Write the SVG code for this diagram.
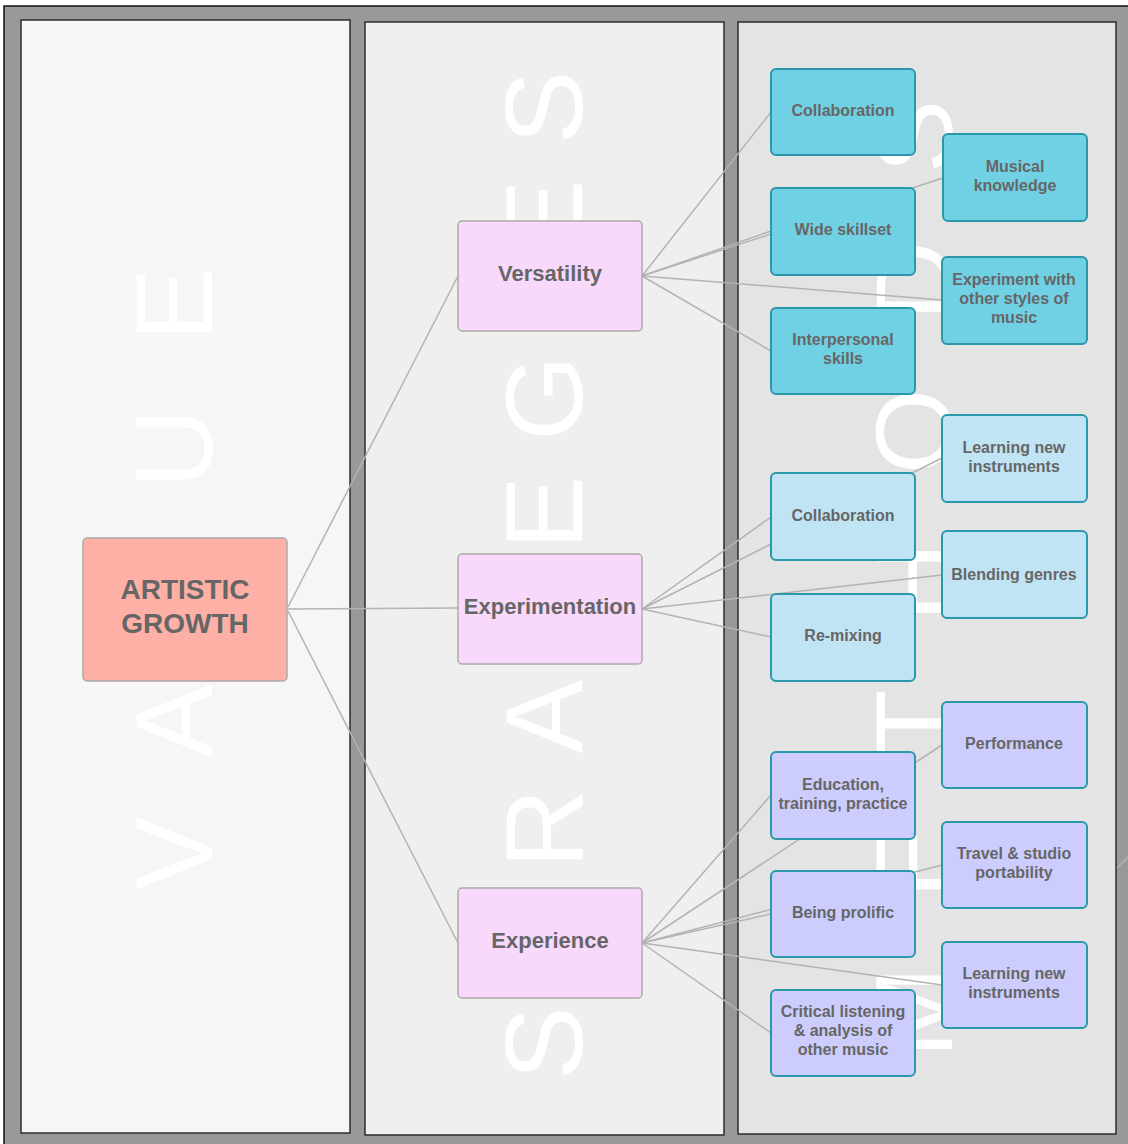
<svg xmlns="http://www.w3.org/2000/svg" width="1128" height="1144" viewBox="0 0 1128 1144">
  <style>
    .col { stroke: #222; stroke-width: 1.4; }
    .big { font-family: "Liberation Sans", Arial, sans-serif; font-size: 110px; fill: #ffffff; }
    .link { stroke: #b3b3b3; stroke-width: 1.5; fill: none; }
    .root rect { fill: #ffb0a6; stroke: #aaaaaa; stroke-width: 1.5; }
    .strat rect { fill: #f9d9fb; stroke: #aaaaaa; stroke-width: 1.5; }
    .m rect { stroke: #2a97ab; stroke-width: 2; }
    .teal rect { fill: #71d1e4; }
    .sky rect { fill: #c1e4f5; }
    .lav rect { fill: #cccdfd; }
    text.lbl { font-family: "Liberation Sans", Arial, sans-serif; font-weight: bold; fill: #666666; text-anchor: middle; }
    .m text.lbl { font-size: 16px; }
  </style>

  <!-- frame -->
  <rect x="4" y="6" width="1130" height="1144" fill="#999999" stroke="#111" stroke-width="1.5"/>

  <!-- swimlane columns -->
  <rect class="col" x="21" y="20" width="329" height="1113" fill="#f6f6f6"/>
  <rect class="col" x="365" y="22" width="359" height="1113" fill="#efefef"/>
  <rect class="col" x="738" y="22" width="378" height="1112" fill="#e4e4e4"/>

  <!-- column titles -->
  <text class="big" transform="translate(212,890) rotate(-90)" letter-spacing="67.4">VALUE</text>
  <text class="big" transform="translate(582,1080) rotate(-90)" letter-spacing="35.6">STRATEGIES</text>
  <text class="big" transform="translate(952,1058) rotate(-90)" letter-spacing="68">METHODS</text>

  <!-- connectors -->
  <g id="connectors">
    <line class="link" x1="288" y1="607" x2="458" y2="276"/>
    <line class="link" x1="288" y1="609" x2="458" y2="608"/>
    <line class="link" x1="288" y1="611" x2="458" y2="943"/>

    <line class="link" x1="642" y1="276" x2="771" y2="112"/>
    <line class="link" x1="642" y1="276" x2="771" y2="231"/>
    <line class="link" x1="642" y1="276" x2="943" y2="178"/>
    <line class="link" x1="642" y1="276" x2="942" y2="300"/>
    <line class="link" x1="642" y1="276" x2="771" y2="351"/>

    <line class="link" x1="642" y1="609" x2="771" y2="517"/>
    <line class="link" x1="642" y1="609" x2="942" y2="458"/>
    <line class="link" x1="642" y1="609" x2="942" y2="575"/>
    <line class="link" x1="642" y1="609" x2="771" y2="637"/>

    <line class="link" x1="642" y1="943" x2="771" y2="795"/>
    <line class="link" x1="642" y1="943" x2="942" y2="745"/>
    <line class="link" x1="642" y1="943" x2="771" y2="914"/>
    <line class="link" x1="642" y1="943" x2="942" y2="865"/>
    <line class="link" x1="642" y1="943" x2="942" y2="985"/>
    <line class="link" x1="642" y1="943" x2="771" y2="1033"/>

    <line class="link" x1="1117" y1="868" x2="1128" y2="857"/>
  </g>

  <!-- value -->
  <g id="artistic-growth" class="root">
    <rect x="83" y="538" width="204" height="143" rx="4"/>
    <text class="lbl" x="185" y="599" font-size="28">ARTISTIC</text>
    <text class="lbl" x="185" y="633" font-size="28">GROWTH</text>
  </g>

  <!-- strategies -->
  <g id="versatility" class="strat">
    <rect x="458" y="221" width="184" height="110" rx="4"/>
    <text class="lbl" x="550" y="281" font-size="22">Versatility</text>
  </g>
  <g id="experimentation" class="strat">
    <rect x="458" y="554" width="184" height="110" rx="4"/>
    <text class="lbl" x="550" y="614" font-size="22">Experimentation</text>
  </g>
  <g id="experience" class="strat">
    <rect x="458" y="888" width="184" height="110" rx="4"/>
    <text class="lbl" x="550" y="948" font-size="22">Experience</text>
  </g>

  <!-- methods: versatility -->
  <g id="collaboration-1" class="m teal">
    <rect x="771" y="69" width="144" height="86" rx="5"/>
    <text class="lbl" x="843" y="116">Collaboration</text>
  </g>
  <g id="musical-knowledge" class="m teal">
    <rect x="943" y="134" width="144" height="87" rx="5"/>
    <text class="lbl" x="1015" y="172">Musical</text>
    <text class="lbl" x="1015" y="191">knowledge</text>
  </g>
  <g id="wide-skillset" class="m teal">
    <rect x="771" y="188" width="144" height="87" rx="5"/>
    <text class="lbl" x="843" y="235">Wide skillset</text>
  </g>
  <g id="experiment-styles" class="m teal">
    <rect x="942" y="257" width="145" height="87" rx="5"/>
    <text class="lbl" x="1014" y="285">Experiment with</text>
    <text class="lbl" x="1014" y="304">other styles of</text>
    <text class="lbl" x="1014" y="323">music</text>
  </g>
  <g id="interpersonal-skills" class="m teal">
    <rect x="771" y="308" width="144" height="86" rx="5"/>
    <text class="lbl" x="843" y="345">Interpersonal</text>
    <text class="lbl" x="843" y="364">skills</text>
  </g>

  <!-- methods: experimentation -->
  <g id="learning-instruments-1" class="m sky">
    <rect x="942" y="415" width="145" height="87" rx="5"/>
    <text class="lbl" x="1014" y="453">Learning new</text>
    <text class="lbl" x="1014" y="472">instruments</text>
  </g>
  <g id="collaboration-2" class="m sky">
    <rect x="771" y="473" width="144" height="87" rx="5"/>
    <text class="lbl" x="843" y="521">Collaboration</text>
  </g>
  <g id="blending-genres" class="m sky">
    <rect x="942" y="531" width="145" height="87" rx="5"/>
    <text class="lbl" x="1014" y="580">Blending genres</text>
  </g>
  <g id="re-mixing" class="m sky">
    <rect x="771" y="594" width="144" height="87" rx="5"/>
    <text class="lbl" x="843" y="641">Re-mixing</text>
  </g>

  <!-- methods: experience -->
  <g id="performance" class="m lav">
    <rect x="942" y="702" width="145" height="86" rx="5"/>
    <text class="lbl" x="1014" y="749">Performance</text>
  </g>
  <g id="education" class="m lav">
    <rect x="771" y="752" width="144" height="87" rx="5"/>
    <text class="lbl" x="843" y="790">Education,</text>
    <text class="lbl" x="843" y="809">training, practice</text>
  </g>
  <g id="travel-portability" class="m lav">
    <rect x="942" y="822" width="145" height="86" rx="5"/>
    <text class="lbl" x="1014" y="859">Travel &amp; studio</text>
    <text class="lbl" x="1014" y="878">portability</text>
  </g>
  <g id="being-prolific" class="m lav">
    <rect x="771" y="871" width="144" height="86" rx="5"/>
    <text class="lbl" x="843" y="918">Being prolific</text>
  </g>
  <g id="learning-instruments-2" class="m lav">
    <rect x="942" y="942" width="145" height="86" rx="5"/>
    <text class="lbl" x="1014" y="979">Learning new</text>
    <text class="lbl" x="1014" y="998">instruments</text>
  </g>
  <g id="critical-listening" class="m lav">
    <rect x="771" y="990" width="144" height="86" rx="5"/>
    <text class="lbl" x="843" y="1017">Critical listening</text>
    <text class="lbl" x="843" y="1036">&amp; analysis of</text>
    <text class="lbl" x="843" y="1055">other music</text>
  </g>
</svg>
